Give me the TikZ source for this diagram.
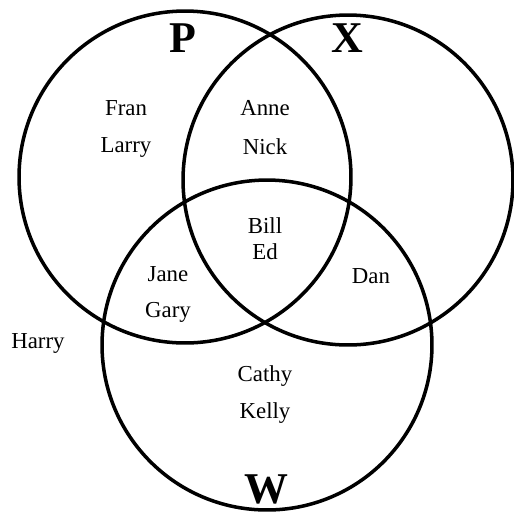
\documentclass[tikz,border=0pt]{standalone}
\usepackage{fontspec}
\setmainfont{Liberation Serif}
\begin{document}
\begin{tikzpicture}[
  x=0.02cm, y=-0.02cm,
  set/.style={draw, line width=2pt},
  person/.style={font=\fontsize{13}{15}\selectfont, inner sep=1pt},
  setlabel/.style={font=\fontsize{25}{28}\selectfont\bfseries, inner sep=0pt}
]
\useasboundingbox (0,0) rectangle (514,512);

\draw[set] (185,177) circle[radius=3.32cm];
\draw[set] (348,180) circle[radius=3.30cm];
\draw[set] (267,345) circle[radius=3.30cm];

\node[setlabel] (p) at (183,38) {P};
\node[setlabel] (x) at (347,38) {X};
\node[setlabel] (w) at (266,489) {W};

\node[person] (fran) at (126,108) {Fran};
\node[person] (larry) at (126,147) {Larry};
\node[person] (anne) at (265,108) {Anne};
\node[person] (nick) at (265,147) {Nick};
\node[person] (bill) at (265,226) {Bill};
\node[person] (ed) at (265,252) {Ed};
\node[person] (jane) at (168,274) {Jane};
\node[person] (gary) at (168,312) {Gary};
\node[person] (dan) at (371,276) {Dan};
\node[person] (harry) at (38,343) {Harry};
\node[person] (cathy) at (265,376) {Cathy};
\node[person] (kelly) at (265,413) {Kelly};
\end{tikzpicture}
\end{document}
